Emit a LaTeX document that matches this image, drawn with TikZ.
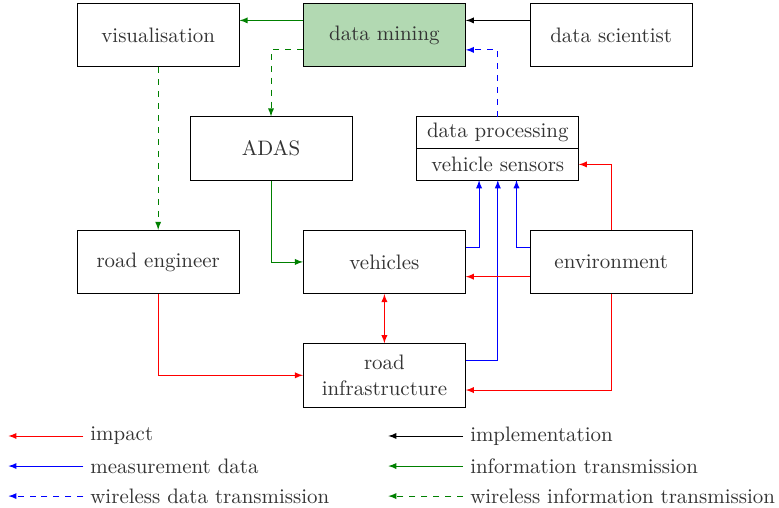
\documentclass[tikz,border=0pt]{standalone}
\usepackage{fontspec}
\usetikzlibrary{arrows}

\begin{document}
\begin{tikzpicture}[
    font=\fontsize{10.5}{12.6}\selectfont,
    every node/.style={text=black!80},
    block/.style={draw, minimum width=2.86cm, minimum height=1.12cm},
    half/.style={draw, minimum width=2.86cm, minimum height=0.56cm, inner sep=0pt, outer sep=0pt},
    legend/.style={anchor=west},
    imp/.style={draw=red, -latex},
    meas/.style={draw=blue, -latex},
    impl/.style={draw=black, -latex},
    info/.style={draw=green!50!black, -latex},
    wdata/.style={meas, dashed},
    winfo/.style={info, dashed}
  ]
    \useasboundingbox (0,0) rectangle (13.74,-8.96);

    % Draw the top row of boxes
    \node[block] (vis) at (2.79,-0.62) {visualisation};
    \node[block, fill=green!50!black!30] (mining) at (6.78,-0.62) {data mining};
    \node[block] (scientist) at (10.78,-0.62) {data scientist};

    % Draw the second row: ADAS and the sensor box in two parts
    \node[block] (adas) at (4.78,-2.62) {ADAS};
    \node[half, anchor=south] (proc) at (8.78,-2.62) {data processing};
    \node[half, anchor=north] (sensors) at (8.78,-2.62) {vehicle sensors};

    % Draw the third row
    \node[block] (engineer) at (2.79,-4.62) {road engineer};
    \node[block] (vehicles) at (6.78,-4.62) {vehicles};
    \node[block] (environment) at (10.78,-4.62) {environment};

    % Draw the road infrastructure box
    \node[block, align=center] (infra) at (6.78,-6.62) {road\\infrastructure};

    % Information flow out of data mining
    \draw[info] ([yshift=0.26cm]mining.west) -- ([yshift=0.26cm]vis.east);
    \draw[impl] ([yshift=0.26cm]scientist.west) -- ([yshift=0.26cm]mining.east);
    \draw[winfo] ([yshift=-0.26cm]mining.west) -| (adas.north);
    \draw[wdata] (proc.north) |- ([yshift=-0.26cm]mining.east);
    \draw[winfo] (vis.south) -- (engineer.north);
    \draw[info] (adas.south) |- (vehicles.west);

    % Measurement data into the vehicle sensors
    \draw[meas] ([yshift=0.26cm]vehicles.east) -| ([xshift=-0.33cm]sensors.south);
    \draw[meas] ([yshift=0.26cm]infra.east) -| (sensors.south);
    \draw[meas] ([yshift=0.26cm]environment.west) -| ([xshift=0.33cm]sensors.south);

    % Impacts
    \draw[imp] (environment.north) |- (sensors.east);
    \draw[imp] ([yshift=-0.26cm]environment.west) -- ([yshift=-0.26cm]vehicles.east);
    \draw[imp, latex-latex] (vehicles.south) -- (infra.north);
    \draw[imp] (engineer.south) |- (infra.west);
    \draw[imp] (environment.south) |- ([yshift=-0.26cm]infra.east);

    % Legend
    \node[legend] (limpact) at (1.47,-7.69) {impact};
    \node[legend] (lmeas) at (1.47,-8.22) {measurement data};
    \node[legend] (lwdata) at (1.47,-8.75) {wireless data transmission};
    \node[legend] (limpl) at (8.17,-7.69) {implementation};
    \node[legend] (linfo) at (8.17,-8.22) {information transmission};
    \node[legend] (lwinfo) at (8.17,-8.75) {wireless information transmission};

    \draw[imp] (limpact.west) -- ++(-1.32,0);
    \draw[meas] (lmeas.west) -- ++(-1.32,0);
    \draw[wdata] (lwdata.west) -- ++(-1.32,0);
    \draw[impl] (limpl.west) -- ++(-1.32,0);
    \draw[info] (linfo.west) -- ++(-1.32,0);
    \draw[winfo] (lwinfo.west) -- ++(-1.32,0);

\end{tikzpicture}
\end{document}
